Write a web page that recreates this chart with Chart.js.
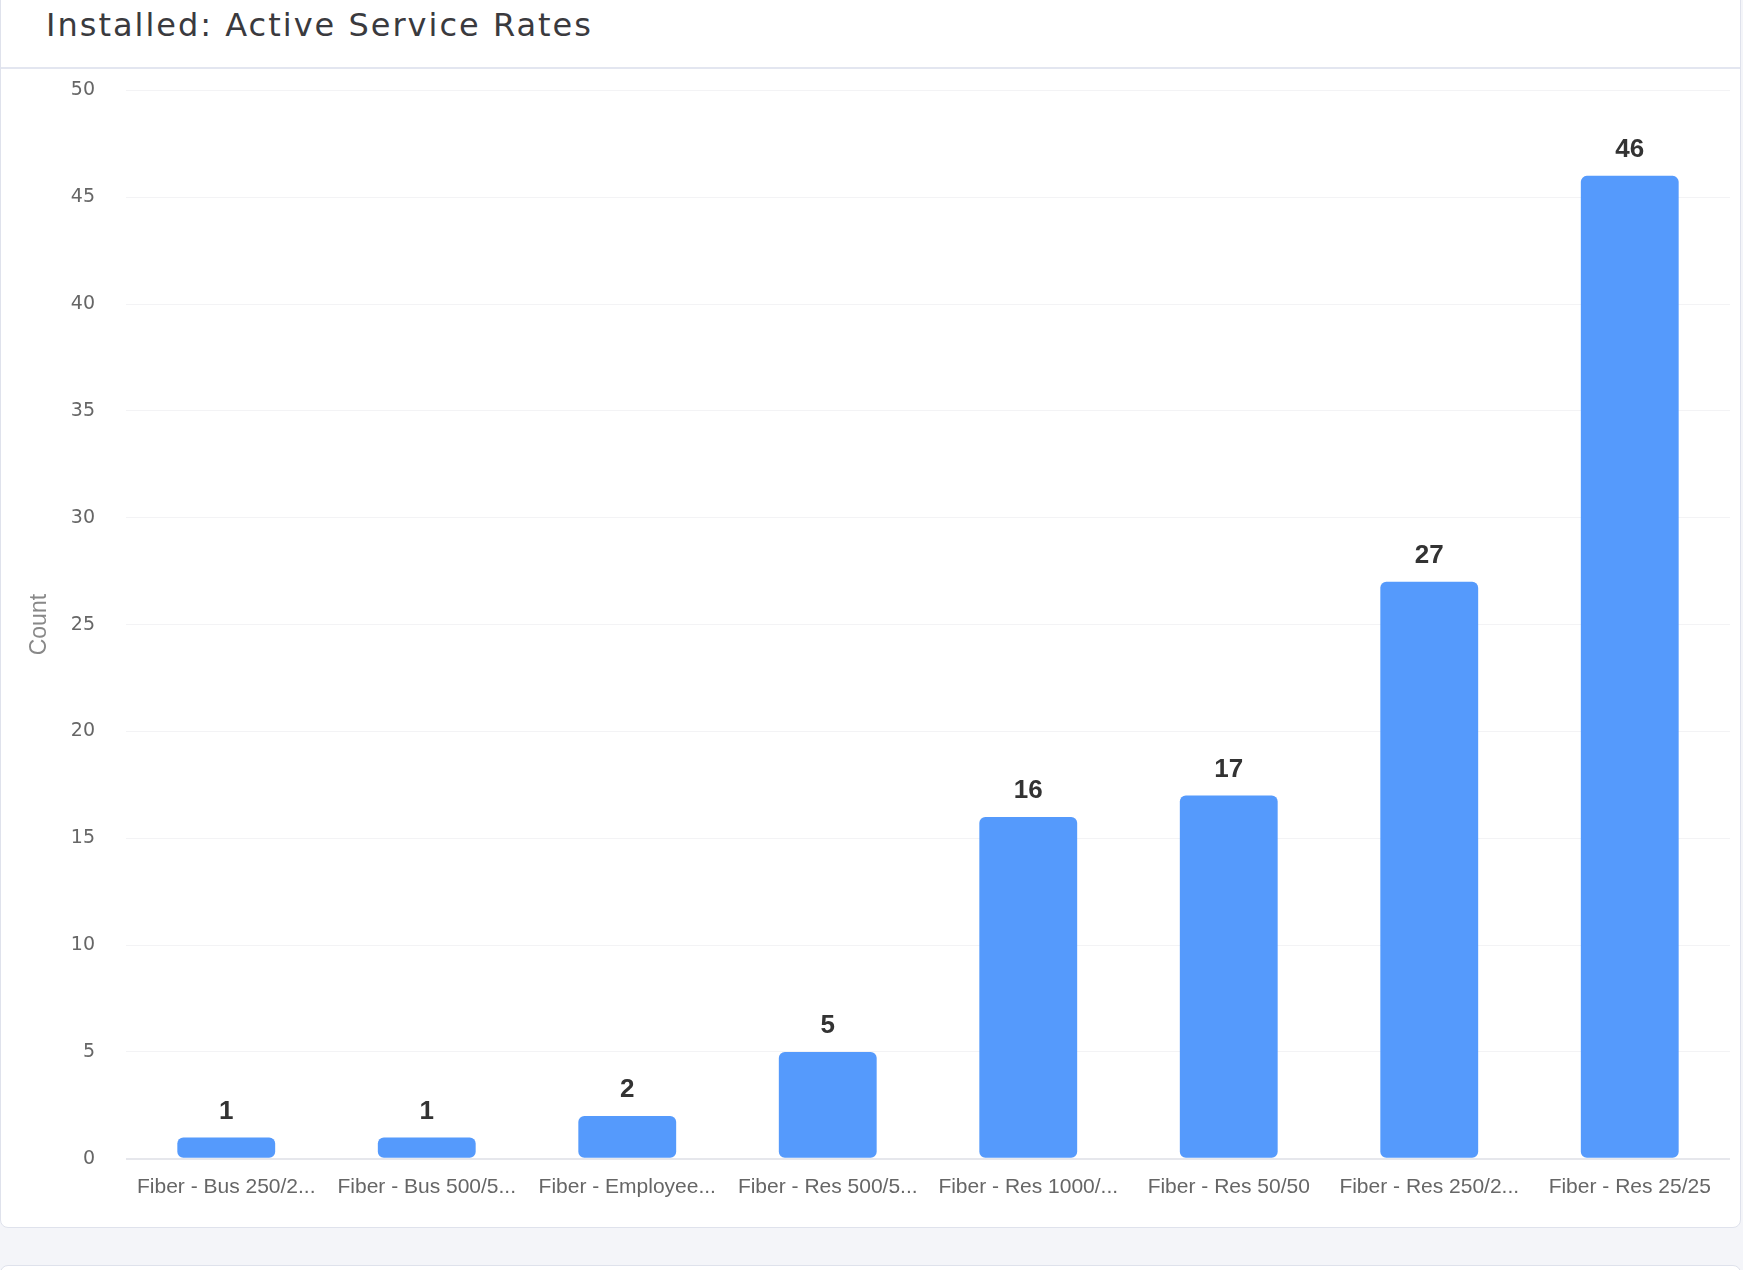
<!DOCTYPE html>
<html>
<head>
<meta charset="utf-8">
<script src="https://cdn.jsdelivr.net/npm/chart.js@4.4.1/dist/chart.umd.min.js"></script>
<style>
    html, body {
        margin: 0;
        padding: 0;
        background: #f4f5f9;
        width: 1743px;
        height: 1270px;
        overflow: hidden;
    }
    .card {
        position: absolute;
        left: 0;
        top: -12px;
        width: 1739px;
        height: 1238px;
        background: #fff;
        border: 1px solid #dfe2ec;
        border-radius: 8px;
    }
    .card-header {
        height: 80px;
        border-bottom: 2px solid #e3e6f0;
        box-sizing: border-box;
        padding-left: 45px;
        padding-top: 17px;
        font-family: "DejaVu Sans", "Open Sans", sans-serif;
        font-size: 32px;
        letter-spacing: 2px;
        color: #3a3a3e;
    }
    .chart-box {
        position: absolute;
        left: 0;
        top: 59px;
        width: 1739px;
        height: 1175px;
    }
    .card2 {
        position: absolute;
        left: 0;
        top: 1265px;
        width: 1739px;
        height: 40px;
        background: #fff;
        border: 1px solid #dfe2ec;
        border-radius: 8px;
    }
</style>
</head>
<body>
<div class="card">
    <div class="card-header">Installed: Active Service Rates</div>
    <div class="chart-box"><canvas id="rates-chart"></canvas></div>
</div>
<div class="card2"></div>
<script>
// カテゴリ（表示されている省略形のラベル）
const categories = [
    'Fiber - Bus 250/2...',
    'Fiber - Bus 500/5...',
    'Fiber - Employee...',
    'Fiber - Res 500/5...',
    'Fiber - Res 1000/...',
    'Fiber - Res 50/50',
    'Fiber - Res 250/2...',
    'Fiber - Res 25/25'
];
const counts = [1, 1, 2, 5, 16, 17, 27, 46];
const yTicks = [0, 5, 10, 15, 20, 25, 30, 35, 40, 45, 50];

// バーの上に値を描くプラグイン
const valueLabels = {
    id: 'valueLabels',
    afterDatasetsDraw(chart) {
        const ctx = chart.ctx;
        const meta = chart.getDatasetMeta(0);
        ctx.save();
        ctx.font = 'bold 26px "Liberation Sans", Arial, sans-serif';
        ctx.fillStyle = '#333';
        ctx.textAlign = 'center';
        ctx.textBaseline = 'bottom';
        meta.data.forEach((bar, i) => {
            ctx.fillText(String(counts[i]), bar.x, bar.y - 13);
        });
        ctx.restore();
    }
};

const ctx = document.getElementById('rates-chart').getContext('2d');
new Chart(ctx, {
    type: 'bar',
    data: {
        labels: categories,
        datasets: [{
            label: 'Count',
            data: counts,
            backgroundColor: '#559afc',
            borderRadius: 6,
            borderSkipped: false,
            categoryPercentage: 0.8,
            barPercentage: 0.61
        }]
    },
    options: {
        responsive: true,
        maintainAspectRatio: false,
        animation: false,
        layout: {
            padding: { top: 0, right: 10, bottom: 15, left: 25 }
        },
        plugins: {
            legend: { display: false },
            tooltip: { enabled: false }
        },
        scales: {
            x: {
                grid: { display: false },
                border: { display: false },
                ticks: {
                    color: '#666',
                    padding: 8,
                    autoSkip: false,
                    maxRotation: 0,
                    font: { family: '"Liberation Sans", Arial, sans-serif', size: 21 }
                }
            },
            y: {
                min: 0,
                max: 50,
                afterBuildTicks(axis) {
                    axis.ticks = yTicks.map(v => ({ value: v }));
                },
                // 軸幅を固定
                afterFit(axis) {
                    axis.width = 100;
                },
                grid: {
                    color: (c) => c.tick && c.tick.value === 0 ? '#e6e7ec' : '#f3f3f5',
                    lineWidth: (c) => c.tick && c.tick.value === 0 ? 2 : 1,
                    drawTicks: false
                },
                border: { display: false },
                ticks: {
                    color: '#666',
                    padding: 31,
                    font: { family: '"DejaVu Sans", sans-serif', size: 19 }
                },
                title: {
                    display: true,
                    text: 'Count',
                    color: '#888',
                    padding: { top: 0, bottom: 0 },
                    font: { family: '"Liberation Sans", Arial, sans-serif', size: 23 }
                }
            }
        }
    },
    plugins: [valueLabels]
});
</script>
</body>
</html>
